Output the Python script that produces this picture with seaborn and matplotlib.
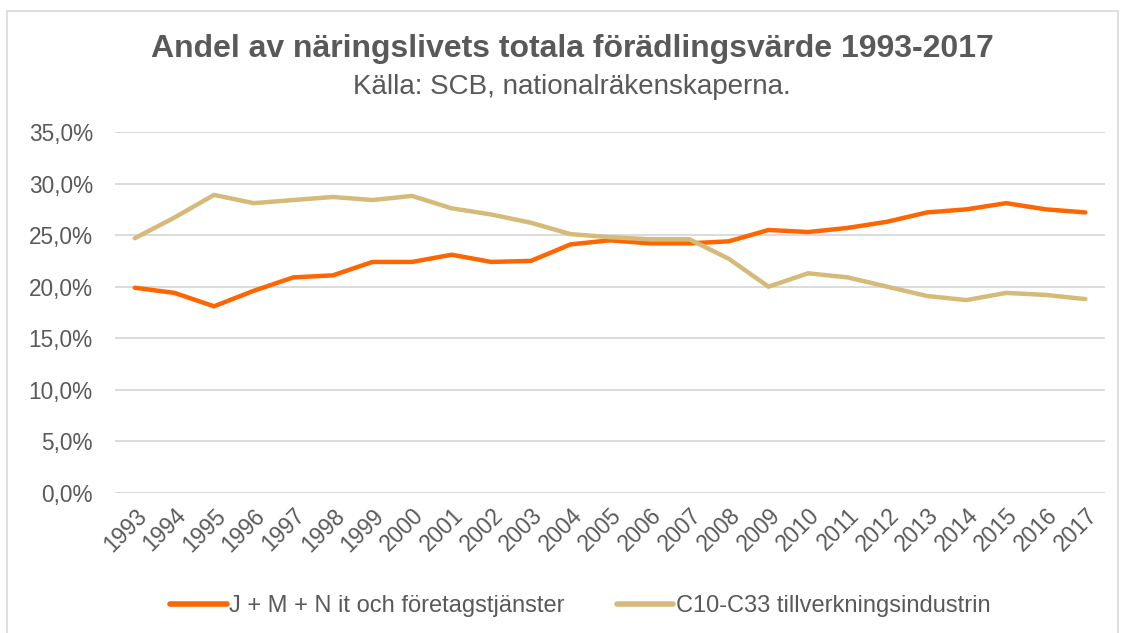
import numpy as np
import pandas as pd
import matplotlib.pyplot as plt
import seaborn as sns
from matplotlib.patches import Rectangle
from matplotlib.ticker import FuncFormatter

years = list(range(1993, 2018))
tjanster = [19.9, 19.4, 18.1, 19.6, 20.9, 21.1, 22.4, 22.4, 23.1, 22.4, 22.5, 24.1, 24.5,
            24.2, 24.2, 24.4, 25.5, 25.3, 25.7, 26.3, 27.2, 27.5, 28.1, 27.5, 27.2]
industri = [24.7, 26.7, 28.9, 28.1, 28.4, 28.7, 28.4, 28.8, 27.6, 27.0, 26.2, 25.1, 24.8,
            24.6, 24.6, 22.7, 20.0, 21.3, 20.9, 20.0, 19.1, 18.7, 19.4, 19.2, 18.8]
names = ['J + M + N it och företagstjänster', 'C10-C33 tillverkningsindustrin']

df = pd.DataFrame({'År': years * 2,
                   'Andel': tjanster + industri,
                   'Serie': [names[0]] * len(years) + [names[1]] * len(years)})

sns.set_style('white')
plt.rcParams['font.family'] = ['Liberation Sans', 'DejaVu Sans']
grey = '#595959'

fig = plt.figure(figsize=(11.22, 6.33), dpi=100)
ax = fig.add_axes([0.1025, 0.2212, 0.8825, 0.5703])
sns.lineplot(data=df, x='År', y='Andel', hue='Serie', palette=['#FF6600', '#D5BA7A'],
             linewidth=3.2, ax=ax, legend=True)

ax.set_ylim(0, 35)
ax.set_xlim(1992.5, 2017.5)
ax.set_yticks(np.arange(0, 36, 5))
ax.yaxis.set_major_formatter(FuncFormatter(lambda v, p: f'{v:.1f}%'.replace('.', ',')))
ax.set_xticks(years)
ax.set_xticklabels([str(y) for y in years], rotation=45, ha='right', rotation_mode='anchor')
ax.tick_params(axis='both', colors=grey, labelsize=16.3, length=0)
ax.tick_params(axis='y', pad=16)
ax.tick_params(axis='x', pad=8)
ax.grid(axis='y', color='#D9D9D9', linewidth=1.3)
ax.set_axisbelow(True)
for s in ax.spines.values():
    s.set_visible(False)
ax.set_xlabel('')
ax.set_ylabel('')

leg = ax.legend(loc='upper center', bbox_to_anchor=(0.47, -0.225), ncol=2, frameon=False,
                fontsize=17, handlelength=2.4, handletextpad=0.1, columnspacing=2.2)
for t in leg.get_texts():
    t.set_color(grey)
for l in leg.get_lines():
    l.set_linewidth(4)

fig.text(0.51, 0.922, 'Andel av näringslivets totala förädlingsvärde 1993-2017',
         ha='center', va='center', fontsize=23, fontweight='bold', color=grey)
fig.text(0.51, 0.862, 'Källa: SCB, nationalräkenskaperna.',
         ha='center', va='center', fontsize=20, color=grey)

fig.patches.append(Rectangle((0.006, -0.02), 0.99, 1.003, transform=fig.transFigure,
                             fill=False, edgecolor='#D9D9D9', linewidth=1.2))

fig.savefig('out.png', dpi=100)
